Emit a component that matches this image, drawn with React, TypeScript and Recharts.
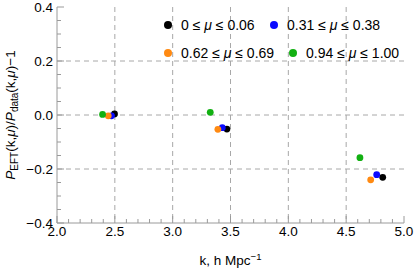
import React from 'react';
import { ScatterChart, Scatter, XAxis, YAxis, CartesianGrid } from 'recharts';

// k values (h/Mpc) and P_EFT/P_data - 1 per mu bin
const kBin0 = [2.497, 3.469, 4.816];
const rBin0 = [0.004, -0.052, -0.231];
const kBin1 = [2.471, 3.429, 4.764];
const rBin1 = [-0.003, -0.047, -0.221];
const kBin2 = [2.443, 3.391, 4.712];
const rBin2 = [-0.003, -0.053, -0.24];
const kBin3 = [2.394, 3.325, 4.619];
const rBin3 = [0.002, 0.01, -0.158];

const muLow = ['0', '0.31', '0.62', '0.94'];
const muHigh = ['0.06', '0.38', '0.69', '1.00'];
const colors = ['#000000', '#0a0aff', '#ff8a12', '#12b012'];

const xMajor = [2, 2.5, 3, 3.5, 4, 4.5, 5];
const yMajor = [-0.4, -0.2, 0, 0.2, 0.4];

const xMinor: number[] = [];
for (let i = 0; i <= 30; i++) xMinor.push(Math.round((2 + i * 0.1) * 100) / 100);
const yMinor: number[] = [];
for (let i = 0; i <= 16; i++) yMinor.push(Math.round((-0.4 + i * 0.05) * 1000) / 1000);

const toPts = (ks: number[], rs: number[]) => ks.map((k, i) => ({ k, r: rs[i] }));
const series = [toPts(kBin0, rBin0), toPts(kBin1, rBin1), toPts(kBin2, rBin2), toPts(kBin3, rBin3)];

const FONT = '"Liberation Sans", Arial, sans-serif';
const FRAME = '#9a9a9a';
const FS = 13.5;

const isMajor = (v: number, majors: number[]) => majors.some((m) => Math.abs(m - v) < 1e-6);
const fmt = (v: number) => {
  const s = (Math.round(v * 10) / 10).toFixed(1);
  return s === '-0.0' ? '0.0' : s.replace('-', '\u2212');
};

const XTick = (p: any) => {
  const { x, y, payload, side } = p;
  const major = isMajor(payload.value, xMajor);
  const len = major ? 7 : 4;
  const dir = side === 'bottom' ? -1 : 1;
  return (
    <g>
      <line x1={x} x2={x} y1={y} y2={y + dir * len} stroke={FRAME} strokeWidth={1} />
      {side === 'bottom' && major && (
        <text x={x} y={y + 13} textAnchor="middle" fontSize={FS} fontFamily={FONT} fill="#000">
          {payload.value.toFixed(1)}
        </text>
      )}
    </g>
  );
};

const YTick = (p: any) => {
  const { x, y, payload, side } = p;
  const major = isMajor(payload.value, yMajor);
  const len = major ? 7 : 4;
  const dir = side === 'left' ? 1 : -1;
  return (
    <g>
      <line x1={x} x2={x + dir * len} y1={y} y2={y} stroke={FRAME} strokeWidth={1} />
      {side === 'left' && major && (
        <text x={x - 4} y={y + 5} textAnchor="end" fontSize={FS} fontFamily={FONT} fill="#000">
          {fmt(payload.value)}
        </text>
      )}
    </g>
  );
};

const XTitle = (p: any) => {
  const { x, y, width } = p.viewBox;
  return (
    <text x={x + width / 2} y={y + 42} textAnchor="middle" fontSize={FS} fontFamily={FONT} fill="#000">
      k, h Mpc<tspan dy={-5} fontSize={9.5}>{'\u22121'}</tspan>
    </text>
  );
};

const YTitle = (p: any) => {
  const { y, height } = p.viewBox;
  const cx = 15;
  const cy = y + height / 2;
  return (
    <text
      x={cx}
      y={cy}
      transform={`rotate(-90 ${cx} ${cy})`}
      textAnchor="middle"
      fontSize={FS}
      fontFamily={FONT}
      fill="#000"
    >
      <tspan fontStyle="italic">P</tspan>
      <tspan dy={3} fontSize={10}>EFT</tspan>
      <tspan dy={-3}>(k,</tspan>
      <tspan fontStyle="italic">μ</tspan>
      <tspan>)/</tspan>
      <tspan fontStyle="italic">P</tspan>
      <tspan dy={3} fontSize={10}>data</tspan>
      <tspan dy={-3}>(k,</tspan>
      <tspan fontStyle="italic">μ</tspan>
      <tspan>){'\u2212'}1</tspan>
    </text>
  );
};

const dot = (color: string) => (p: any) => <circle cx={p.cx} cy={p.cy} r={3.4} fill={color} />;

const legendPos = [
  { left: 164, top: 17 },
  { left: 270, top: 17 },
  { left: 164, top: 45 },
  { left: 289, top: 45 },
];

export default function App() {
  return (
    <div style={{ position: 'absolute', left: 0, top: 0, width: 415, height: 272 }}>
      <ScatterChart width={415} height={272} margin={{ top: 7, right: 11, bottom: 0, left: 0 }}>
        <CartesianGrid
          stroke="#a8a8a8"
          strokeDasharray="5 4"
          verticalValues={xMajor.slice(1, -1)}
          horizontalValues={yMajor.slice(1, -1)}
        />
        <XAxis
          dataKey="k"
          type="number"
          domain={[2, 5]}
          ticks={xMinor}
          interval={0}
          height={49}
          tickSize={0}
          tickMargin={0}
          tickLine={false}
          axisLine={{ stroke: FRAME }}
          tick={(p: any) => <XTick {...p} side="bottom" />}
          label={{ content: (p: any) => <XTitle {...p} /> }}
        />
        <XAxis
          xAxisId="top"
          orientation="top"
          type="number"
          domain={[2, 5]}
          ticks={xMinor}
          interval={0}
          height={0}
          tickSize={0}
          tickMargin={0}
          tickLine={false}
          axisLine={{ stroke: FRAME }}
          tick={(p: any) => <XTick {...p} side="top" />}
        />
        <YAxis
          dataKey="r"
          type="number"
          domain={[-0.4, 0.4]}
          ticks={yMinor}
          interval={0}
          width={57}
          tickSize={0}
          tickMargin={0}
          tickLine={false}
          axisLine={{ stroke: FRAME }}
          tick={(p: any) => <YTick {...p} side="left" />}
          label={{ content: (p: any) => <YTitle {...p} /> }}
        />
        <YAxis
          yAxisId="right"
          orientation="right"
          type="number"
          domain={[-0.4, 0.4]}
          ticks={yMinor}
          interval={0}
          width={0}
          tickSize={0}
          tickMargin={0}
          tickLine={false}
          axisLine={{ stroke: FRAME }}
          tick={(p: any) => <YTick {...p} side="right" />}
        />
        {series.map((d, i) => (
          <Scatter key={i} data={d} fill={colors[i]} shape={dot(colors[i])} isAnimationActive={false} />
        ))}
      </ScatterChart>
      {muLow.map((lo, i) => (
        <div
          key={i}
          style={{
            position: 'absolute',
            left: legendPos[i].left,
            top: legendPos[i].top,
            display: 'flex',
            alignItems: 'center',
            fontFamily: FONT,
            fontSize: 14,
            lineHeight: '16px',
            whiteSpace: 'nowrap',
          }}
        >
          <span
            style={{
              display: 'inline-block',
              width: 8,
              height: 8,
              borderRadius: 4,
              background: colors[i],
              marginRight: 9,
            }}
          />
          <span>
            {lo} ≤ <i>μ</i> ≤ {muHigh[i]}
          </span>
        </div>
      ))}
    </div>
  );
}
